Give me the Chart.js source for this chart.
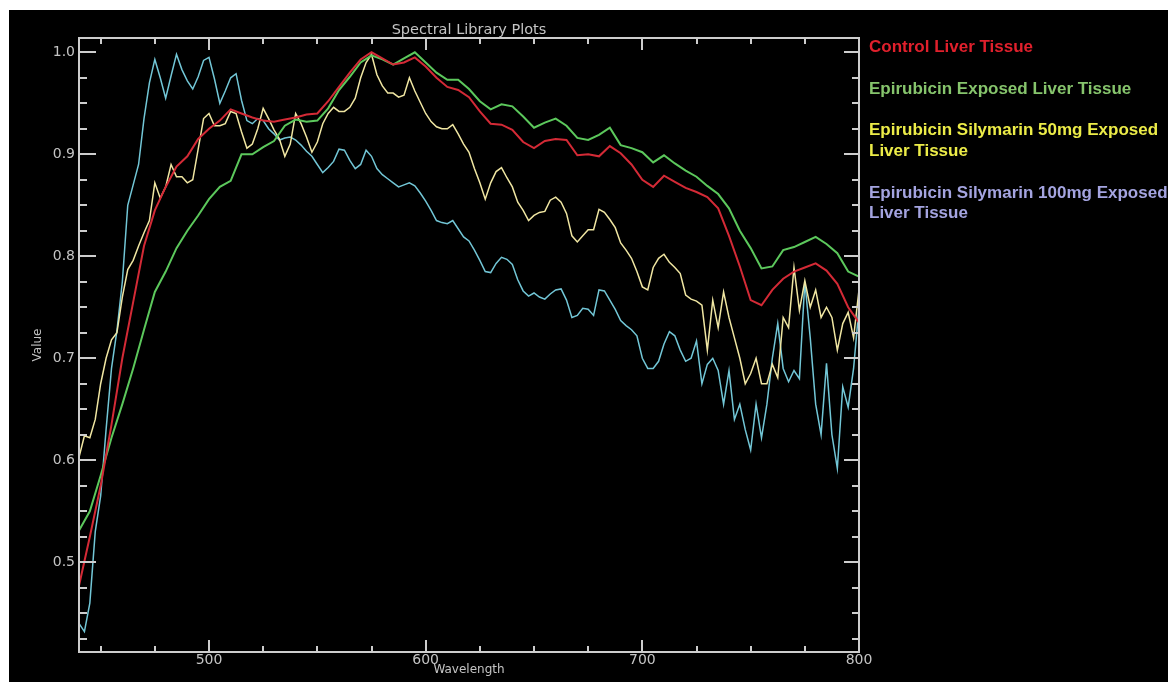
<!DOCTYPE html>
<html>
<head>
<meta charset="utf-8">
<title>Spectral Library Plots</title>
<script src="https://cdn.jsdelivr.net/npm/chart.js@4.4.1/dist/chart.umd.min.js"></script>
<style>
  html, body { margin: 0; padding: 0; background: #ffffff; }
  canvas { display: block; }
</style>
</head>
<body>
<canvas id="spectra" width="1168" height="682"></canvas>
<script>
// Sampling grids (nm)
const wavelengthCoarse = Array.from({ length: 73 }, (_, i) => 440 + i * 5);
const wavelengthFine = Array.from({ length: 145 }, (_, i) => 440 + i * 2.5);

// Control liver tissue (5 nm grid)
const controlValues = [
  0.477, 0.525, 0.575, 0.635, 0.700, 0.755, 0.810, 0.845, 0.868, 0.888,
  0.898, 0.915, 0.925, 0.933, 0.944, 0.940, 0.936, 0.933, 0.932, 0.934,
  0.936, 0.939, 0.940, 0.952, 0.966, 0.980, 0.993, 1.000, 0.994, 0.988,
  0.990, 0.995, 0.986, 0.975, 0.966, 0.963, 0.956, 0.942, 0.930, 0.929,
  0.924, 0.912, 0.906, 0.913, 0.915, 0.914, 0.899, 0.900, 0.898, 0.908,
  0.901, 0.890, 0.875, 0.868, 0.879, 0.873, 0.867, 0.863, 0.858, 0.847,
  0.820, 0.790, 0.757, 0.752, 0.767, 0.778, 0.785, 0.789, 0.793, 0.786,
  0.773, 0.750, 0.735
];

// Epirubicin exposed (5 nm grid)
const epirubicinValues = [
  0.531, 0.550, 0.585, 0.622, 0.655, 0.690, 0.728, 0.765, 0.785, 0.808,
  0.825, 0.840, 0.856, 0.868, 0.874, 0.900, 0.900, 0.907, 0.913, 0.928,
  0.934, 0.932, 0.933, 0.945, 0.963, 0.976, 0.990, 0.997, 0.993, 0.988,
  0.994, 1.000, 0.990, 0.980, 0.973, 0.973, 0.964, 0.952, 0.944, 0.949,
  0.947, 0.937, 0.926, 0.931, 0.935, 0.928, 0.916, 0.914, 0.919, 0.926,
  0.909, 0.906, 0.902, 0.892, 0.899, 0.891, 0.884, 0.878, 0.869, 0.861,
  0.847, 0.825, 0.808, 0.788, 0.790, 0.806, 0.809, 0.814, 0.819, 0.812,
  0.803, 0.785, 0.780
];

// Epirubicin + silymarin 50 mg (2.5 nm grid)
const silymarin50Values = [
  0.603, 0.624, 0.622, 0.640, 0.675, 0.700, 0.718, 0.725, 0.760, 0.787,
  0.796, 0.810, 0.823, 0.835, 0.872, 0.857, 0.868, 0.890, 0.878, 0.878,
  0.872, 0.875, 0.905, 0.935, 0.940, 0.928, 0.928, 0.930, 0.942, 0.940,
  0.922, 0.906, 0.910, 0.925, 0.945, 0.935, 0.924, 0.915, 0.898, 0.910,
  0.940, 0.930, 0.917, 0.902, 0.912, 0.930, 0.940, 0.946, 0.942, 0.942,
  0.946, 0.955, 0.975, 0.990, 0.998, 0.978, 0.967, 0.960, 0.960, 0.956,
  0.958, 0.975, 0.962, 0.951, 0.940, 0.932, 0.927, 0.925, 0.925, 0.929,
  0.920, 0.910, 0.902, 0.886, 0.872, 0.856, 0.872, 0.883, 0.887, 0.877,
  0.868, 0.853, 0.845, 0.835, 0.840, 0.843, 0.844, 0.855, 0.858, 0.853,
  0.842, 0.820, 0.814, 0.820, 0.826, 0.826, 0.846, 0.843, 0.836, 0.828,
  0.813, 0.806, 0.798, 0.785, 0.770, 0.767, 0.789, 0.798, 0.802, 0.794,
  0.789, 0.783, 0.762, 0.758, 0.756, 0.752, 0.708, 0.757, 0.730, 0.765,
  0.740, 0.720, 0.700, 0.675, 0.685, 0.700, 0.675, 0.675, 0.694, 0.681,
  0.740, 0.730, 0.789, 0.747, 0.776, 0.750, 0.767, 0.740, 0.750, 0.740,
  0.708, 0.734, 0.745, 0.720, 0.767
];

// Epirubicin + silymarin 100 mg (2.5 nm grid)
const silymarin100Values = [
  0.440, 0.432, 0.460, 0.530, 0.565, 0.630, 0.690, 0.727, 0.775, 0.850,
  0.870, 0.890, 0.935, 0.970, 0.993, 0.975, 0.955, 0.977, 0.998, 0.983,
  0.972, 0.964, 0.976, 0.992, 0.995, 0.974, 0.950, 0.962, 0.975, 0.979,
  0.953, 0.933, 0.930, 0.935, 0.933, 0.925, 0.920, 0.914, 0.916, 0.917,
  0.914, 0.909, 0.903, 0.898, 0.890, 0.882, 0.887, 0.893, 0.905, 0.904,
  0.894, 0.886, 0.890, 0.904, 0.898, 0.886, 0.880, 0.876, 0.872, 0.868,
  0.870, 0.872, 0.869, 0.862, 0.854, 0.845, 0.835, 0.833, 0.832, 0.835,
  0.827, 0.819, 0.815, 0.806, 0.796, 0.785, 0.784, 0.793, 0.799, 0.797,
  0.792, 0.777, 0.766, 0.761, 0.764, 0.760, 0.758, 0.763, 0.767, 0.768,
  0.757, 0.740, 0.742, 0.749, 0.748, 0.742, 0.767, 0.766, 0.757, 0.748,
  0.737, 0.732, 0.728, 0.722, 0.700, 0.690, 0.690, 0.697, 0.714, 0.726,
  0.722, 0.708, 0.697, 0.700, 0.717, 0.675, 0.694, 0.700, 0.688, 0.655,
  0.688, 0.640, 0.655, 0.630, 0.610, 0.655, 0.622, 0.655, 0.700, 0.734,
  0.690, 0.677, 0.688, 0.680, 0.775, 0.720, 0.655, 0.625, 0.695, 0.625,
  0.592, 0.672, 0.652, 0.690, 0.750
];

// Axis tick values and labels
const xMajorTicks = [500, 600, 700, 800];
const xMinorTicks = [450, 475, 525, 550, 575, 625, 650, 675, 725, 750, 775];
const yMajorTicks = [0.5, 0.6, 0.7, 0.8, 0.9, 1.0];
const yMinorTicks = [0.425, 0.45, 0.475, 0.525, 0.55, 0.575, 0.625, 0.65, 0.675,
                     0.725, 0.75, 0.775, 0.825, 0.85, 0.875, 0.925, 0.95, 0.975];
const yTickLabels = ['0.5', '0.6', '0.7', '0.8', '0.9', '1.0'];
const xTickLabels = ['500', '600', '700', '800'];

// Legend entries, one text line per row
const legendRows = [
  { text: 'Control Liver Tissue', color: '#e0202c', y: 52 },
  { text: 'Epirubicin Exposed Liver Tissue', color: '#86c46c', y: 93.5 },
  { text: 'Epirubicin Silymarin 50mg Exposed', color: '#ecec48', y: 135 },
  { text: 'Liver Tissue', color: '#ecec48', y: 155.5 },
  { text: 'Epirubicin Silymarin 100mg Exposed', color: '#a4a4e0', y: 197.5 },
  { text: 'Liver Tissue', color: '#a4a4e0', y: 217.5 }
];

const pairs = (xs, ys) => xs.map((x, i) => ({ x, y: ys[i] }));

const AXIS_COLOR = '#cdcdcd';
const LABEL_COLOR = '#c4c4c4';

const backdrop = {
  id: 'backdrop',
  beforeDraw(chart) {
    const { ctx, width, height } = chart;
    ctx.save();
    ctx.fillStyle = '#ffffff';
    ctx.fillRect(0, 0, width, height);
    ctx.fillStyle = '#000000';
    ctx.fillRect(9, 10, width - 9, height - 10);
    ctx.restore();
  }
};

const idlAxes = {
  id: 'idlAxes',
  afterDatasetsDraw(chart) {
    const { ctx, chartArea: a, scales } = chart;
    const xs = scales.x, ys = scales.y;
    ctx.save();
    ctx.strokeStyle = AXIS_COLOR;
    ctx.lineWidth = 2;
    ctx.strokeRect(a.left, a.top, a.right - a.left, a.bottom - a.top);

    const tick = (x1, y1, x2, y2) => {
      ctx.beginPath(); ctx.moveTo(x1, y1); ctx.lineTo(x2, y2); ctx.stroke();
    };
    // horizontal axes: ticks point inward
    xMajorTicks.forEach(v => {
      const px = Math.round(xs.getPixelForValue(v));
      tick(px, a.bottom, px, a.bottom - 12);
      tick(px, a.top, px, a.top + 12);
    });
    xMinorTicks.forEach(v => {
      const px = Math.round(xs.getPixelForValue(v));
      tick(px, a.bottom, px, a.bottom - 6);
      tick(px, a.top, px, a.top + 6);
    });
    // vertical axes
    yMajorTicks.forEach(v => {
      const py = Math.round(ys.getPixelForValue(v));
      tick(a.left, py, a.left + 17, py);
      tick(a.right, py, a.right - 15, py);
    });
    yMinorTicks.forEach(v => {
      const py = Math.round(ys.getPixelForValue(v));
      tick(a.left, py, a.left + 8, py);
      tick(a.right, py, a.right - 7, py);
    });

    ctx.fillStyle = LABEL_COLOR;
    ctx.font = '14px "DejaVu Sans"';
    ctx.textAlign = 'right';
    ctx.textBaseline = 'middle';
    yMajorTicks.forEach((v, i) => {
      ctx.fillText(yTickLabels[i], a.left - 4, ys.getPixelForValue(v));
    });
    ctx.textAlign = 'center';
    ctx.textBaseline = 'top';
    xMajorTicks.forEach((v, i) => {
      ctx.fillText(xTickLabels[i], xs.getPixelForValue(v), a.bottom + 1);
    });

    const midX = (a.left + a.right) / 2;
    ctx.font = '12px "DejaVu Sans"';
    ctx.fillText('Wavelength', midX, a.bottom + 12);
    ctx.font = '14.5px "DejaVu Sans"';
    ctx.textBaseline = 'alphabetic';
    ctx.fillText('Spectral Library Plots', midX, a.top - 4);

    ctx.save();
    ctx.translate(38, (a.top + a.bottom) / 2);
    ctx.rotate(-Math.PI / 2);
    ctx.font = '12px "DejaVu Sans"';
    ctx.textBaseline = 'middle';
    ctx.fillText('Value', 0, 0);
    ctx.restore();

    // legend
    ctx.textAlign = 'left';
    ctx.textBaseline = 'alphabetic';
    ctx.font = 'bold 17px "Liberation Sans"';
    legendRows.forEach(r => {
      ctx.fillStyle = r.color;
      ctx.fillText(r.text, a.right + 10, r.y);
    });
    ctx.restore();
  }
};

new Chart(document.getElementById('spectra'), {
  type: 'line',
  data: {
    datasets: [
      {
        label: 'Control Liver Tissue',
        data: pairs(wavelengthCoarse, controlValues),
        borderColor: '#d42a36', borderWidth: 2
      },
      {
        label: 'Epirubicin Exposed Liver Tissue',
        data: pairs(wavelengthCoarse, epirubicinValues),
        borderColor: '#5cc85c', borderWidth: 2
      },
      {
        label: 'Epirubicin Silymarin 50mg Exposed Liver Tissue',
        data: pairs(wavelengthFine, silymarin50Values),
        borderColor: '#f0e6a2', borderWidth: 1.5
      },
      {
        label: 'Epirubicin Silymarin 100mg Exposed Liver Tissue',
        data: pairs(wavelengthFine, silymarin100Values),
        borderColor: '#72c6d6', borderWidth: 1.5
      }
    ]
  },
  options: {
    responsive: false,
    animation: false,
    events: [],
    layout: { padding: { left: 79, top: 38, right: 309, bottom: 30 } },
    elements: { point: { radius: 0 }, line: { tension: 0 } },
    plugins: { legend: { display: false }, title: { display: false }, tooltip: { enabled: false } },
    scales: {
      x: { type: 'linear', min: 440, max: 800, display: false },
      y: { type: 'linear', min: 0.412, max: 1.014, display: false }
    }
  },
  plugins: [backdrop, idlAxes]
});
</script>
</body>
</html>
